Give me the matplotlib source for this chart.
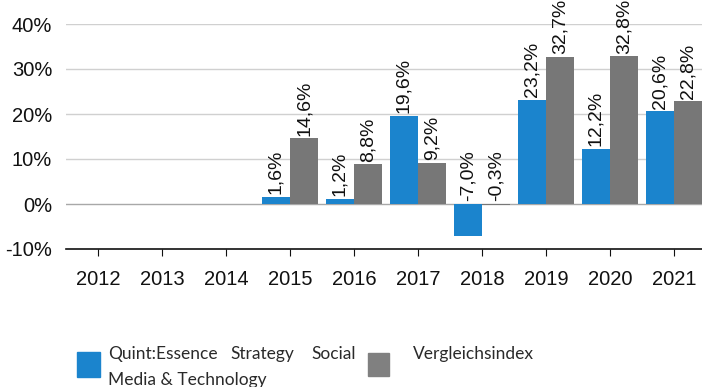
import numpy as np
import matplotlib.pyplot as plt
from matplotlib.patches import Rectangle

years = ['2012', '2013', '2014', '2015', '2016', '2017', '2018', '2019', '2020', '2021']
fund = [np.nan, np.nan, np.nan, 1.6, 1.2, 19.6, -7.0, 23.2, 12.2, 20.6]
index = [np.nan, np.nan, np.nan, 14.6, 8.8, 9.2, -0.3, 32.7, 32.8, 22.8]
fund_line1 = ['Quint:Essence', 'Strategy', 'Social']
fund_line2 = 'Media & Technology'
index_name = 'Vergleichsindex'

BLUE = '#1b84cd'
GRAY = '#777777'

plt.rcParams['font.family'] = ['Liberation Sans', 'DejaVu Sans']

fig = plt.figure(figsize=(7.02, 3.87), dpi=100)
ax = fig.add_axes([66 / 702, 138 / 387, 640 / 702, 225 / 387])

x = np.arange(len(years))
w = 0.445
ax.bar(x - w / 2, fund, w, color=BLUE, zorder=3)
ax.bar(x + w / 2, index, w, color=GRAY, zorder=3)

def fmt(v):
    return f'{v:.1f}'.replace('.', ',') + '%'

for xs, vals in ((x - w / 2, fund), (x + w / 2, index)):
    for xi, v in zip(xs, vals):
        if np.isnan(v):
            continue
        ax.annotate(fmt(v), (xi, max(v, 0)), xytext=(0, 2), textcoords='offset points',
                    rotation=90, ha='center', va='bottom', fontsize=14,
                    color='#111111', annotation_clip=False)

ax.set_xlim(-0.5, 9.5)
ax.set_ylim(-10, 40)
ax.set_yticks(np.arange(-10, 41, 10))
ax.set_yticklabels([f'{t}%' for t in range(-10, 41, 10)])
ax.set_xticks(x)
ax.set_xticklabels(years)
ax.tick_params(axis='y', length=0, pad=10, labelsize=14.5, labelcolor='#111111')
ax.tick_params(axis='x', length=5, direction='out', pad=10, labelsize=14.5,
               labelcolor='#111111', color='#111111')

for t in range(10, 41, 10):
    ax.axhline(t, color='#d0d0d0', lw=1.0, zorder=1)
ax.axhline(0, color='#a8a8a8', lw=1.0, zorder=2)

for s in ('top', 'right', 'left'):
    ax.spines[s].set_visible(False)
ax.spines['bottom'].set_color('#111111')
ax.spines['bottom'].set_linewidth(1.2)

# legend drawn by hand: the long label is justified over two lines
fig.patches.append(Rectangle((77 / 702, 1 - 377 / 387), 23 / 702, 25 / 387,
                             transform=fig.transFigure, color=BLUE))
fig.patches.append(Rectangle((368 / 702, 1 - 376 / 387), 21 / 702, 23 / 387,
                             transform=fig.transFigure, color='#808080'))
leg_font = dict(family=['Lato', 'DejaVu Sans'], fontsize=12.5, color='#2a2a2a')
y1 = 1 - 359 / 387
y2 = 1 - 385 / 387
fig.text(108 / 702, y1, fund_line1[0], ha='left', va='baseline', **leg_font)
fig.text(262 / 702, y1, fund_line1[1], ha='center', va='baseline', **leg_font)
fig.text(356 / 702, y1, fund_line1[2], ha='right', va='baseline', **leg_font)
fig.text(108 / 702, y2, fund_line2, ha='left', va='baseline', **leg_font)
fig.text(413 / 702, y1, index_name, ha='left', va='baseline', **leg_font)

fig.savefig('out.png', dpi=100)
